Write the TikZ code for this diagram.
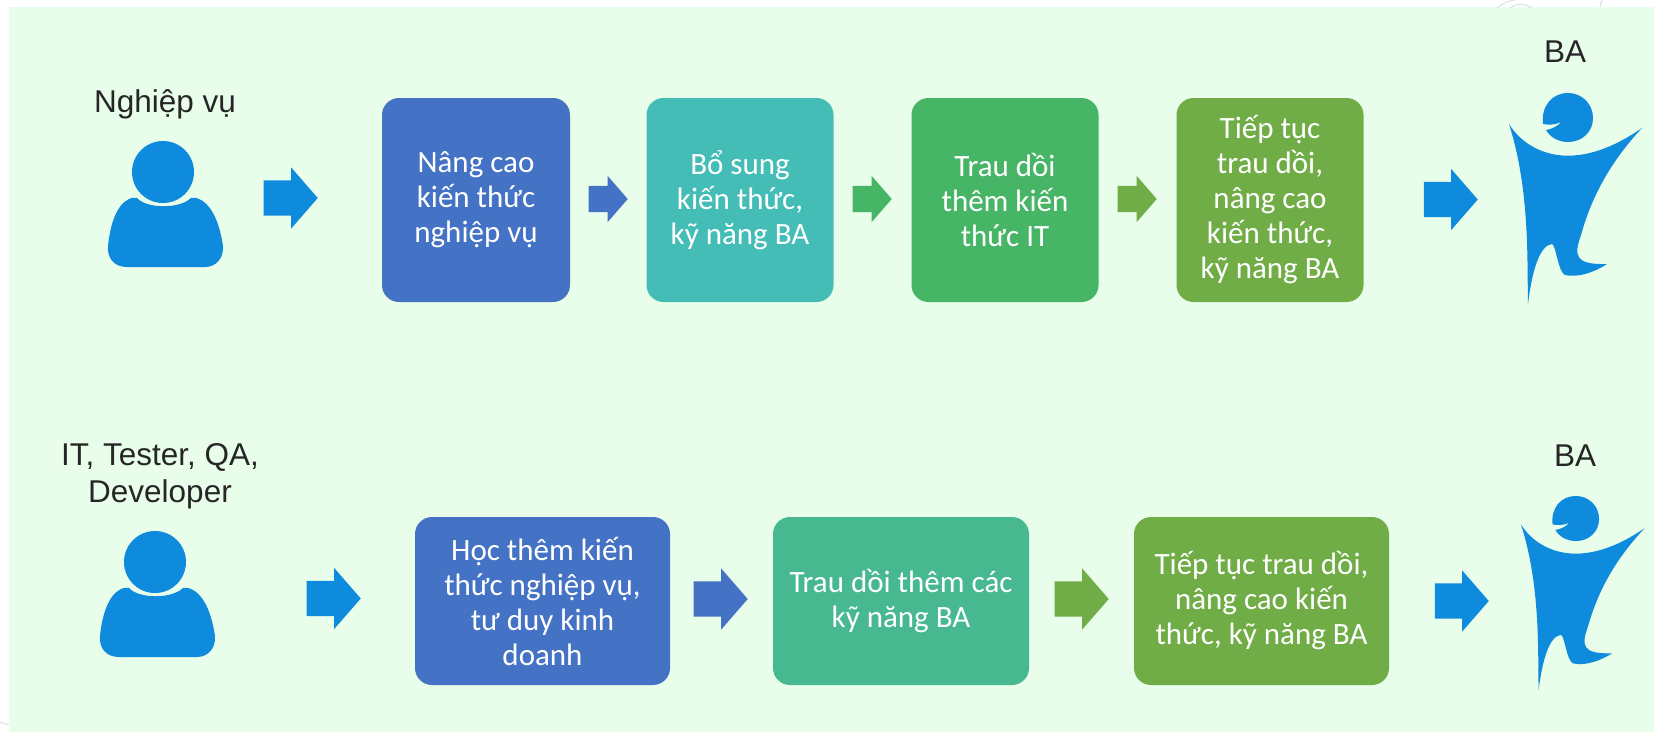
\documentclass[tikz,border=0pt]{standalone}
\usepackage{fontspec}
\setmainfont{Liberation Sans}
\newfontfamily\boxfont{Carlito}
\usetikzlibrary{shapes.arrows}
\definecolor{bgc}{HTML}{E8FDEA}
\definecolor{iconc}{HTML}{0E8BDC}
\definecolor{cA}{HTML}{4472C4}
\definecolor{cB}{HTML}{45BDB7}
\definecolor{cC}{HTML}{47B566}
\definecolor{cD}{HTML}{70AD47}
\definecolor{cE}{HTML}{47B88F}
\definecolor{wm}{HTML}{D5D8E0}
\tikzset{
 x=1pt,y=-1pt,
 stepbox/.style={rectangle,rounded corners=17pt,draw=none,text=white,align=center,inner sep=0pt,font=\boxfont\fontsize{31}{35}\selectfont},
 blockarrow/.style={single arrow,draw=none,inner xsep=0pt,anchor=tip,shape border rotate=0,single arrow tip angle=98,single arrow head indent=0pt},
 bigarrow/.style={blockarrow,inner ysep=17.5pt,minimum width=61pt,minimum height=54pt,single arrow head extend=13pt},
 smallarrow/.style={blockarrow,inner ysep=13pt,minimum width=46pt,minimum height=39pt,single arrow head extend=10pt},
 captext/.style={font=\fontsize{31.5}{37}\selectfont,text=black!85,align=center,inner sep=0pt},
}
\newcommand{\personicon}[2]{%
 \fill[iconc] (163+#1,172+#2) circle[radius=31];
 \fill[iconc] (129+#1,199+#2) .. controls (131+#1,198+#2) and (134+#1,197+#2) .. (137+#1,198+#2)
  .. controls (147+#1,209+#2) and (180+#1,209+#2) .. (191+#1,198+#2)
  .. controls (194+#1,197+#2) and (197+#1,198+#2) .. (199+#1,199+#2)
  .. controls (213+#1,205+#2) and (220+#1,226+#2) .. (223+#1,246+#2)
  .. controls (224+#1,258+#2) and (216+#1,267+#2) .. (205+#1,267+#2)
  -- (127+#1,267+#2) .. controls (114+#1,267+#2) and (107+#1,258+#2) .. (108+#1,246+#2)
  .. controls (110+#1,226+#2) and (116+#1,205+#2) .. (129+#1,199+#2) -- cycle;
}
\newcommand{\baicon}{%
 \fill[iconc] (1568,93) .. controls (1582,93) and (1593,104) .. (1593,118)
  .. controls (1593,132) and (1582,142) .. (1568,142)
  .. controls (1558,142) and (1550,137) .. (1546,130)
  .. controls (1552,129) and (1558,126) .. (1561,122)
  .. controls (1555,125) and (1549,125) .. (1543,124)
  .. controls (1541,106) and (1552,93) .. (1568,93) -- cycle;
 \fill[iconc] (1509,124) .. controls (1525,150) and (1570,178) .. (1642,128)
  .. controls (1612,160) and (1592,195) .. (1581,235)
  .. controls (1574,255) and (1574,265) .. (1607,264)
  .. controls (1595,272) and (1578,278) .. (1565,275)
  .. controls (1558,272) and (1556,245) .. (1552,244)
  .. controls (1540,245) and (1532,270) .. (1528,304)
  .. controls (1527,260) and (1530,190) .. (1509,124) -- cycle;
}
\begin{document}
\begin{tikzpicture}
\useasboundingbox (0,0) rectangle (1654,732);
\fill[white] (0,0) rectangle (1654,732);
\fill[bgc] (9,7) rectangle (1654,732);
% faint watermark
\begin{scope}
\clip (0,0) rectangle (1654,7);
\draw[wm,line width=.8pt] (1497,8) .. controls (1505,1) and (1515,-1) .. (1530,-2);
\draw[wm,line width=.8pt] (1510,8) .. controls (1518,3) and (1523,3) .. (1532,8);
\draw[wm,line width=.8pt] (1602,0) -- (1600,7);
\end{scope}
\draw[wm,line width=.8pt] (0,722) .. controls (3,723) and (6,724) .. (9,725);
% row 1
\node[captext] (src1) at (165,104) {Nghiệp vụ};
\personicon{0}{0}
\node[bigarrow,fill=iconc] (a1) at (318,198) {};
\node[stepbox,fill=cA,minimum width=188pt,minimum height=204pt] (b1) at (476,200) {Nâng cao\\kiến thức\\nghiệp vụ};
\node[smallarrow,fill=cA] (a2) at (628,199) {};
\node[stepbox,fill=cB,minimum width=187pt,minimum height=204pt] (b2) at (740,200) {Bổ sung\\kiến thức,\\kỹ năng BA};
\node[smallarrow,fill=cC] (a3) at (892,199) {};
\node[stepbox,fill=cC,minimum width=187pt,minimum height=204pt] (b3) at (1005,200) {Trau dồi\\thêm kiến\\thức IT};
\node[smallarrow,fill=cD] (a4) at (1157,199) {};
\node[stepbox,fill=cD,minimum width=187pt,minimum height=204pt] (b4) at (1270,200) {Tiếp tục\\trau dồi,\\nâng cao\\kiến thức,\\kỹ năng BA};
\node[bigarrow,fill=iconc] (a5) at (1478,199.5) {};
\node[captext] (t1) at (1565,52) {BA};
\baicon
% row 2
\node[captext] (src2) at (160,476) {IT, Tester, QA,\\Developer};
\personicon{-8}{390}
\node[bigarrow,fill=iconc] (c1) at (361,598.5) {};
\node[stepbox,fill=cA,minimum width=255pt,minimum height=168pt] (d1) at (542.5,601) {Học thêm kiến\\thức nghiệp vụ,\\tư duy kinh\\doanh};
\node[bigarrow,fill=cA] (c2) at (748,599) {};
\node[stepbox,fill=cE,minimum width=256pt,minimum height=168pt] (d2) at (901,601) {Trau dồi thêm các\\kỹ năng BA};
\node[bigarrow,fill=cD] (c3) at (1109,599) {};
\node[stepbox,fill=cD,minimum width=255pt,minimum height=168pt] (d3) at (1261.5,601) {Tiếp tục trau dồi,\\nâng cao kiến\\thức, kỹ năng BA};
\node[bigarrow,fill=iconc] (c4) at (1489,601) {};
\node[captext] (t2) at (1575,456) {BA};
\begin{scope}[shift={(117.6,410.4)},xscale=.93,yscale=.92]
\baicon
\end{scope}
\end{tikzpicture}
\end{document}
